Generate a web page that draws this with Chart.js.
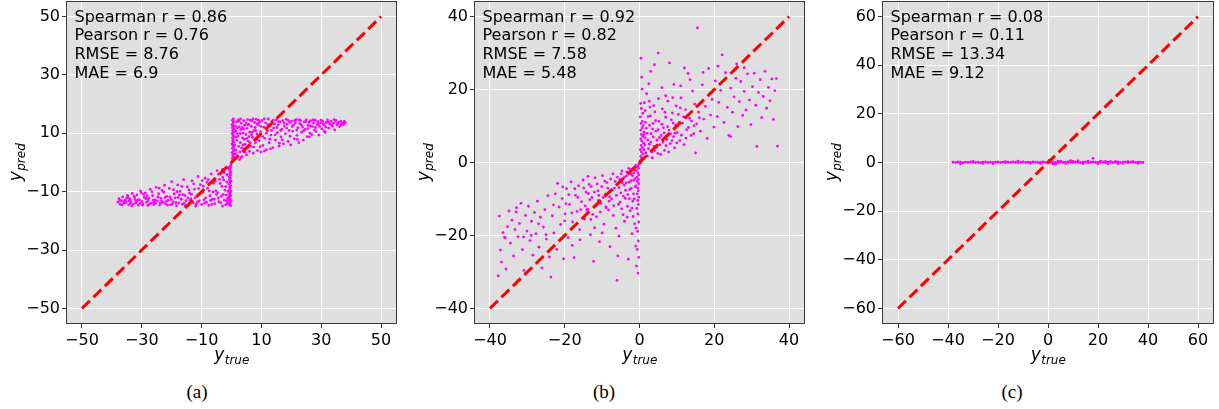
<!DOCTYPE html>
<html>
<head>
  <meta charset="utf-8">
  <title>y_true vs y_pred</title>
  <script src="https://cdn.jsdelivr.net/npm/chart.js@4.4.0/dist/chart.umd.min.js"></script>
  <style>
    body { margin: 0; background: #fff; width: 1219px; height: 409px; position: relative; overflow: hidden; }
    canvas { position: absolute; top: 0; }
    .cap { position: absolute; top: 381px; width: 60px; text-align: center; line-height: 22px;
           font-family: 'Liberation Serif', 'DejaVu Serif', serif; font-size: 19px; color: #000; }
  </style>
</head>
<body>
  <canvas id="chartA" width="410" height="372" style="left:0px"></canvas>
  <canvas id="chartB" width="400" height="372" style="left:410px"></canvas>
  <canvas id="chartC" width="404" height="372" style="left:815px"></canvas>
  <div class="cap" style="left:167px">(a)</div>
  <div class="cap" style="left:574px">(b)</div>
  <div class="cap" style="left:982px">(c)</div>

  <script>
    // ---- data: [y_true, y_pred] ----
    const ticksA = [-50, -30, -10, 10, 30, 50];
    const ticksB = [-40, -20, 0, 20, 40];
    const ticksC = [-60, -40, -20, 0, 20, 40, 60];
    const diagA = [-50, 50];
    const diagB = [-40, 40];
    const diagC = [-60, 60];
    const statsA = ['Spearman r = 0.86', 'Pearson r = 0.76', 'RMSE = 8.76', 'MAE = 6.9'];
    const statsB = ['Spearman r = 0.92', 'Pearson r = 0.82', 'RMSE = 7.58', 'MAE = 5.48'];
    const statsC = ['Spearman r = 0.08', 'Pearson r = 0.11', 'RMSE = 13.34', 'MAE = 9.12'];

    // panel (a)
    const aNegCol = [[-0.3,-14.8],[-0.7,-14.3],[-0.4,-13.8],[-0.8,-13.3],[-0.2,-12.9],[-0.6,-12.4],[-0.9,-11.9],[-0.3,-11.4],[-0.7,-10.9],[-0.5,-10.4],[-0.2,-9.9],[-0.8,-9.4],[-0.4,-8.9],[-0.6,-8.4],[-0.3,-7.9],[-0.9,-7.4],[-0.5,-6.9],[-0.2,-6.4],[-0.7,-5.9],[-0.4,-5.4],[-0.8,-4.9],[-0.3,-4.4],[-0.6,-3.9],[-0.2,-3.4],[-0.5,-2.9],[-0.7,-2.4],[-0.3,-1.9],[-0.4,-1.4],[-0.2,-0.9],[-0.1,-0.4]];
    const aPosCol = [[0.2,0.4],[0.5,0.9],[0.3,1.4],[0.7,1.9],[0.4,2.4],[0.8,2.9],[0.2,3.4],[0.6,3.9],[0.9,4.4],[0.3,4.9],[0.7,5.4],[0.5,5.9],[0.2,6.4],[0.8,6.9],[0.4,7.4],[0.6,7.9],[0.3,8.4],[0.9,8.9],[0.5,9.4],[0.2,9.9],[0.7,10.4],[0.4,10.9],[0.8,11.4],[0.3,11.9],[0.6,12.4],[0.2,12.9],[0.5,13.4],[0.7,13.9],[0.3,14.4],[0.6,14.9]];
    const aNeg = [[-38.0,-13.6],[-37.6,-12.4],[-37.2,-14.3],[-36.8,-13.1],[-36.4,-11.8],[-36.0,-14.0],[-35.6,-12.9],[-35.2,-13.7],[-34.8,-11.3],[-34.4,-14.5],[-34.0,-12.5],[-33.6,-13.4],[-33.2,-10.6],[-32.8,-14.2],[-32.4,-12.0],[-32.0,-13.8],[-31.6,-11.1],[-31.2,-14.6],[-30.8,-12.7],[-30.4,-9.7],[-30.0,-13.3],[-29.6,-14.1],[-29.2,-11.9],[-28.8,-10.4],[-28.4,-13.6],[-28.0,-14.7],[-27.6,-12.2],[-27.2,-9.2],[-26.8,-13.9],[-26.4,-11.4],[-26.0,-14.4],[-25.6,-12.8],[-25.2,-8.5],[-24.8,-13.2],[-24.4,-10.7],[-24.0,-14.6],[-23.6,-12.3],[-23.2,-9.6],[-22.8,-13.7],[-22.4,-7.8],[-22.0,-14.2],[-21.6,-11.6],[-21.2,-12.9],[-20.8,-8.9],[-20.4,-14.5],[-20.0,-6.6],[-19.6,-13.4],[-19.2,-10.8],[-18.8,-12.1],[-18.4,-14.8],[-18.0,-7.7],[-17.6,-13.9],[-17.2,-9.9],[-16.8,-12.6],[-16.4,-14.3],[-16.0,-5.9],[-15.6,-11.3],[-15.2,-13.1],[-14.8,-8.4],[-14.4,-14.6],[-14.0,-10.5],[-13.6,-12.4],[-13.2,-6.3],[-12.8,-13.8],[-12.4,-9.1],[-12.0,-14.9],[-11.6,-11.7],[-11.2,-4.8],[-10.8,-13.2],[-10.4,-7.6],[-10.0,-14.4],[-9.6,-10.2],[-9.2,-12.8],[-8.8,-5.4],[-8.4,-13.6],[-8.0,-8.8],[-7.6,-14.7],[-7.2,-11.4],[-6.8,-3.9],[-6.4,-12.6],[-6.0,-7.1],[-5.6,-14.1],[-5.2,-9.7],[-4.8,-2.8],[-4.4,-12.1],[-4.0,-5.8],[-3.6,-13.8],[-3.2,-8.2],[-2.8,-10.9],[-2.4,-3.5],[-2.0,-14.5],[-1.6,-6.7],[-1.3,-12.4],[-1.1,-1.8],
      [-9.0,-14.0],[-7.0,-13.0],[-5.0,-11.0],[-3.0,-14.9],[-2.2,-9.5],[-1.5,-4.2],[-4.2,-13.4],[-6.2,-10.1],[-8.2,-6.8],[-11.8,-14.2],[-13.8,-13.0],[-15.8,-14.0],[-17.8,-12.0],[-19.8,-14.2],[-21.8,-13.3],[-23.8,-13.9],[-25.8,-13.6],[-27.8,-13.0],[-29.8,-14.6],[-31.8,-13.5],[-33.8,-14.0],[-35.8,-13.4],[-2.6,-6.0],[-3.4,-11.6],[-1.9,-8.3],[-1.4,-14.0],
      [-37.4,-13.0],[-36.6,-14.6],[-35.0,-12.2],[-34.2,-13.1],[-33.4,-14.8],[-32.6,-11.5],[-31.4,-12.9],[-30.6,-14.0],[-29.4,-10.9],[-28.6,-12.4],[-27.4,-14.2],[-26.6,-10.0],[-25.4,-14.0],[-24.6,-11.9],[-23.4,-13.2],[-22.6,-10.2],[-21.4,-14.6],[-20.6,-11.8],[-19.4,-9.3],[-18.6,-13.7],[-17.4,-11.1],[-16.6,-8.2],[-15.4,-14.8],[-14.6,-12.1],[-13.4,-10.9],[-12.6,-7.3],[-11.4,-13.5],[-10.6,-10.8],[-9.4,-8.1],[-8.6,-12.1],[-7.4,-9.8],[-6.6,-14.4],[-5.4,-6.5],[-4.6,-10.3],[-3.8,-7.2],[-3.0,-2.4],[-2.4,-12.9],[-1.8,-11.2],[-1.2,-9.9],[-1.7,-13.2],[-2.9,-5.1],[-4.3,-4.0],[-5.8,-12.6],[-7.8,-5.9],[-9.8,-6.2],[-11.0,-8.9],[-12.2,-12.1],[-14.2,-9.4],[-16.2,-11.0],[-18.2,-10.0],[-20.2,-12.6],[-22.2,-12.0],[-24.2,-8.8],[-26.2,-12.9],[-28.2,-11.4],[-30.2,-10.3],[-32.2,-12.8],[-34.6,-12.0]];
    const aPos = [[1.2,1.5],[1.5,4.2],[1.8,7.6],[1.4,10.8],[1.7,13.9],[2.1,2.3],[2.4,5.5],[2.2,9.1],[2.6,12.2],[2.3,14.6],[2.8,3.6],[2.9,6.8],[3.1,11.3],[3.3,13.4],[3.0,14.9],[3.5,2.1],[3.7,8.4],[3.9,10.1],[4.2,4.7],[4.4,12.8],[4.1,14.3],[4.6,6.2],[4.8,9.6],[5.0,2.6],[5.2,11.7],[5.4,14.7],[5.6,7.3],[5.8,13.1],[6.0,3.8],[6.1,10.4],[6.4,5.5],[6.6,12.4],[6.8,14.2],[7.0,8.6],[7.3,3.2],[7.5,11.0],[7.7,13.7],[8.0,6.7],[8.2,14.8],[8.5,9.8],[8.7,4.1],[8.9,12.9],[9.2,7.5],[9.4,13.8],[9.7,10.6],[9.9,3.6],
      [10.2,14.4],[10.5,5.9],[10.8,12.1],[11.1,8.3],[11.4,13.5],[11.7,4.4],[12.0,10.9],[12.3,14.9],[12.6,6.8],[12.9,12.6],[13.2,9.4],[13.5,14.1],[13.8,5.1],[14.1,11.8],[14.4,13.2],[14.7,7.7],[15.0,14.6],[15.3,10.2],[15.6,12.9],[15.9,5.6],[16.2,13.9],[16.5,8.8],[16.8,11.4],[17.1,14.3],[17.4,6.4],[17.7,12.5],[18.0,9.9],[18.3,14.8],[18.6,13.1],[18.9,7.2],[19.2,11.0],[19.5,13.7],[19.8,6.0],
      [20.1,14.2],[20.4,10.7],[20.7,12.8],[21.0,8.1],[21.3,13.5],[21.6,14.7],[21.9,9.3],[22.2,11.9],[22.5,6.8],[22.8,13.3],[23.1,14.4],[23.4,10.4],[23.7,12.2],[24.0,7.7],[24.3,13.9],[24.6,11.3],[25.0,14.6],[25.3,8.9],[25.6,12.7],[25.9,13.8],[26.2,10.1],[26.5,14.3],[26.8,9.6],[27.1,12.3],[27.4,13.5],[27.7,11.1],[28.0,14.5],[28.3,10.6],[28.6,13.0],[28.9,14.0],[29.2,9.4],[29.5,12.4],[29.8,13.6],
      [30.2,11.5],[30.5,14.2],[30.9,12.8],[31.3,10.3],[31.7,13.7],[32.1,14.6],[32.5,11.8],[32.9,13.1],[33.3,14.1],[33.7,12.4],[34.1,13.5],[34.5,11.2],[34.9,14.4],[35.3,12.9],[35.7,13.8],[36.1,12.3],[36.5,14.1],[36.9,13.3],[37.3,13.6],[37.7,14.2],[38.0,13.7],
      [1.1,6.0],[1.3,12.5],[1.9,9.9],[2.7,1.0],[3.4,5.0],[3.6,12.0],[4.3,7.9],[4.9,13.6],[5.3,5.0],[5.9,8.9],[6.3,14.5],[6.9,10.3],[7.9,12.0],[8.4,7.9],[9.0,14.5],[9.6,5.4],
      [1.4,3.0],[1.6,8.7],[2.0,11.9],[2.5,14.1],[2.9,9.9],[3.2,1.6],[3.8,6.0],[4.0,11.4],[4.5,3.5],[5.1,8.3],[5.5,12.9],[6.2,6.8],[6.7,9.4],[7.2,14.9],[7.4,5.3],[8.1,10.9],[8.6,13.3],[9.3,9.0],[9.8,12.4],[10.4,8.9],[11.0,14.9],[11.6,10.0],[12.2,13.0],[12.8,8.0],[13.4,11.0],[14.0,14.5],[14.6,9.5],[15.2,12.0],[15.8,14.0],[16.4,10.9],[17.0,7.8],[17.6,13.6],[18.4,11.8],[19.0,14.4],[19.6,9.0],[20.3,12.3],[21.1,14.3],[21.8,11.1],[22.6,14.6],[23.3,12.9],[24.1,10.9],[24.8,14.0],[25.5,11.6],[26.4,12.6],[27.3,14.6],[28.1,12.0],[29.0,13.1],[29.9,14.5],[30.7,13.3],[31.5,12.1],[32.3,13.8],[33.5,12.9],[34.3,14.7],[35.5,13.4],[36.7,12.8],[37.5,13.1],[16.0,6.6],[13.0,4.7],[11.0,3.9],[22.0,7.9],[26.0,8.8],[31.0,10.8]];

    // panel (b)
    const bPosCol = [[0.2,0.5],[0.6,1.1],[0.3,1.7],[0.9,2.3],[0.5,2.9],[0.2,3.5],[0.8,4.1],[0.4,4.7],[1.1,5.3],[0.6,5.9],[0.3,6.5],[0.9,7.1],[0.5,7.7],[1.2,8.3],[0.3,8.9],[0.7,9.5],[1.0,10.1],[0.4,10.7],[0.8,11.3],[0.2,12.5],[0.5,14.8],[0.3,16.2],[0.6,23.4],[0.4,28.6],[0.7,20.1],[0.2,-0.2]];
    const bNegCol = [[-0.2,-0.4],[-0.5,-1.0],[-0.3,-1.6],[-0.8,-2.2],[-0.4,-2.8],[-0.2,-3.4],[-0.7,-4.0],[-0.3,-4.6],[-0.6,-5.2],[-0.2,-5.8],[-0.9,-6.4],[-0.4,-7.0],[-0.3,-7.8],[-0.6,-8.6],[-0.2,-9.5],[-0.5,-10.4],[-0.3,-11.5],[-0.7,-12.6],[-0.4,-14.1],[-0.2,-16.3],[-0.5,-18.9],[-0.3,-21.5],[-0.6,-23.8],[-0.2,-26.0],[-0.4,-30.3],[-0.8,-28.4]];
    const bPos = [[1.2,3.5],[1.5,6.8],[1.8,9.4],[2.1,1.8],[2.3,12.6],[2.6,5.0],[2.8,15.2],[3.1,7.9],[3.3,2.9],[3.6,10.7],[3.9,4.4],[4.1,13.9],[4.4,8.6],[4.7,6.1],[4.9,2.5],[3.0,25.0],[4.0,26.8],[1.9,18.9],[2.5,21.6],[1.3,16.4],
      [5.2,11.3],[5.5,4.9],[5.8,7.4],[6.1,14.7],[6.4,9.5],[6.7,3.3],[7.0,12.4],[7.3,6.3],[7.6,16.8],[7.9,8.9],[8.2,5.2],[8.5,11.7],[8.8,13.6],[9.1,7.1],[9.4,4.0],[9.7,10.3],[6.0,20.5],[8.0,27.3],[9.2,21.4],[5.0,30.0],[7.0,18.3],[9.8,15.5],
      [10.1,8.2],[10.4,13.2],[10.8,6.0],[11.1,17.7],[11.5,10.8],[11.9,4.9],[12.3,14.5],[12.6,9.0],[13.0,24.4],[13.4,12.1],[13.8,7.4],[14.2,19.6],[14.6,10.1],[15.0,2.6],[15.5,36.9],[15.8,13.8],[12.0,25.9],[13.5,22.7],[11.0,21.0],[14.8,16.0],
      [16.3,8.6],[16.8,21.3],[17.2,11.9],[17.6,15.4],[18.1,6.6],[18.5,25.8],[19.0,13.0],[19.4,17.3],[19.9,9.7],[20.3,22.4],[20.8,12.6],[21.2,16.5],[21.7,19.8],[22.1,29.5],[22.6,11.0],[23.0,24.6],[23.5,15.1],[23.9,7.4],[17.0,24.7],[21.0,26.4],
      [24.4,20.4],[24.9,13.8],[25.3,18.0],[25.8,23.1],[26.3,9.9],[26.7,16.7],[27.1,22.2],[27.6,12.9],[28.0,19.5],[28.5,14.4],[28.9,24.3],[29.4,17.1],[29.8,10.4],[30.2,20.8],[30.7,24.5],[31.1,15.7],[31.4,4.4],[31.8,19.2],[32.3,22.7],[32.7,12.3],[33.1,18.1],[33.6,25.0],[34.0,14.9],[34.5,20.6],[34.9,16.9],[35.4,22.9],[35.8,11.8],[36.2,19.7],[36.6,23.0],[36.9,4.5],[24.4,7.1],[26.0,27.0],[28.0,26.0],
      [1.0,1.2],[1.4,4.8],[1.7,2.6],[2.0,8.0],[2.4,3.8],[2.7,10.2],[3.0,5.6],[3.4,1.3],[3.7,7.0],[4.0,3.2],[4.3,11.5],[4.6,4.2],[5.0,9.0],[5.3,6.8],[5.7,2.2],[6.0,10.5],[6.3,5.6],[6.6,8.1],[7.1,4.6],[7.5,9.8],[7.8,2.9],[8.3,7.9],[8.7,6.0],[9.0,10.8],[9.5,8.0],[10.0,5.4],[10.6,11.0],[11.2,7.5],[11.8,12.5],[12.4,6.7],[13.1,9.6],[13.9,11.4],[14.5,7.9],[15.3,10.6],[16.0,12.3],[1.1,7.6],[1.6,11.0],[2.2,6.2],[2.9,12.8],[3.5,9.2],[0.9,13.5],[1.5,14.2],[2.6,16.8],[3.8,15.6],[5.1,17.5],[6.8,13.8],[8.9,17.8],[10.9,15.0]];
    const bNeg = [[-37.8,-31.1],[-37.5,-14.7],[-37.2,-24.0],[-36.9,-27.3],[-36.5,-19.2],[-36.1,-20.5],[-35.7,-29.2],[-35.3,-17.6],[-34.9,-13.3],[-34.5,-22.1],[-34.1,-15.8],[-33.7,-25.6],[-33.3,-18.4],[-32.9,-12.4],[-32.5,-20.3],[-32.1,-16.7],[-31.7,-11.2],[-31.3,-23.9],[-30.9,-29.6],[-30.5,-14.5],[-30.1,-18.8],[-35.9,-20.7],[-33.0,-13.6],[-31.0,-20.4],
      [-29.7,-12.0],[-29.3,-21.4],[-28.9,-16.1],[-28.5,-25.4],[-28.1,-13.7],[-27.7,-19.5],[-27.3,-10.6],[-26.9,-23.2],[-26.5,-15.0],[-26.1,-28.9],[-25.7,-17.7],[-25.3,-12.9],[-24.9,-21.0],[-24.5,-9.1],[-24.1,-25.9],[-23.7,-31.4],[-23.3,-14.6],[-22.9,-19.3],[-22.5,-8.6],[-22.1,-23.8],[-21.9,-5.7],[-29.0,-20.0],[-27.0,-16.8],[-25.0,-19.8],[-23.0,-11.6],
      [-21.5,-12.2],[-21.1,-17.0],[-20.7,-9.9],[-20.3,-26.4],[-19.9,-14.1],[-19.5,-7.2],[-19.1,-20.6],[-18.7,-11.5],[-18.3,-5.3],[-17.9,-16.3],[-17.5,-26.1],[-17.1,-9.0],[-16.7,-13.4],[-16.3,-6.4],[-15.9,-21.2],[-15.5,-10.7],[-15.1,-4.8],[-14.7,-15.5],[-14.3,-8.1],[-20.0,-16.0],[-18.0,-22.7],[-16.0,-18.4],[-14.5,-11.9],
      [-13.9,-12.8],[-13.5,-6.0],[-13.1,-19.8],[-12.7,-9.6],[-12.3,-27.1],[-11.9,-4.2],[-11.5,-14.9],[-11.1,-7.8],[-10.7,-21.7],[-10.3,-11.2],[-9.9,-3.6],[-9.5,-16.9],[-9.1,-8.7],[-8.7,-5.5],[-8.3,-13.0],[-7.9,-23.1],[-7.5,-10.0],[-7.1,-3.1],[-6.7,-7.0],[-6.3,-18.0],[-6.0,-32.3],[-5.8,-25.6],[-13.0,-15.6],[-12.0,-17.9],[-10.0,-19.3],[-9.0,-12.2],[-8.0,-9.4],[-7.0,-14.5],[-11.0,-10.4],[-13.8,-3.8],
      [-5.6,-11.5],[-5.3,-4.6],[-5.0,-8.3],[-4.7,-2.3],[-4.4,-14.3],[-4.1,-6.2],[-3.8,-9.8],[-3.5,-3.7],[-3.2,-12.0],[-2.9,-1.6],[-2.6,-7.4],[-2.3,-5.0],[-2.0,-19.5],[-1.8,-10.6],[-1.5,-2.9],[-1.3,-16.8],[-1.1,-6.7],[-1.0,-22.9],[-5.5,-20.2],[-3.0,-26.5],[-4.0,-16.1],[-2.5,-13.2],[-1.6,-8.6],[-3.6,-5.6],[-2.2,-3.2],[-4.8,-12.7],[-1.2,-4.4],[-0.9,-1.2],
      [-1.0,-0.8],[-1.3,-2.0],[-1.6,-4.9],[-1.9,-3.6],[-2.2,-7.1],[-2.5,-1.9],[-2.8,-5.4],[-3.1,-8.8],[-3.4,-2.6],[-3.7,-7.6],[-4.0,-4.0],[-4.3,-9.2],[-4.6,-5.6],[-4.9,-3.1],[-5.2,-10.9],[-5.5,-6.9],[-5.9,-4.0],[-6.2,-9.0],[-6.5,-5.2],[-6.9,-11.8],[-7.3,-7.6],[-7.7,-4.5],[-8.1,-10.6],[-8.5,-7.0],[-8.9,-12.4],[-9.3,-5.1],[-9.7,-9.6],[-10.1,-6.6],[-10.5,-13.6],[-10.9,-9.0],[-11.3,-5.9],[-11.7,-11.8],[-12.1,-8.1],[-12.5,-14.2],[-12.9,-6.6],[-13.3,-10.2],[-13.7,-8.5],[-14.1,-13.0],[-14.9,-7.0],[-15.7,-12.9],[-16.5,-9.6],[-17.3,-7.2],[-18.1,-13.8],[-18.9,-8.8],[-19.7,-11.3],[-20.5,-6.7],[-1.4,-10.0],[-2.0,-12.5],[-2.7,-9.9],[-3.3,-15.0],[-1.7,-14.8],[-0.9,-18.0]];

    // panel (c)
    const cBand = [[-38,0.1],[-37,0.0],[-36,0.2],[-35,0.1],[-34,-0.1],[-33,0.1],[-32,0.0],[-31,0.2],[-30,0.1],[-29,0.0],[-28,0.1],[-27,-0.1],[-26,0.1],[-25,0.2],[-24,0.0],[-23,0.1],[-22,0.0],[-21,0.1],[-20,0.2],[-19,0.0],[-18,0.1],[-17,-0.1],[-16,0.1],[-15,0.0],[-14,0.2],[-13,0.1],[-12,0.0],[-11,0.1],[-10,0.2],[-9,0.0],[-8,0.1],[-7,0.0],[-6,0.2],[-5,0.1],[-4,0.0],[-3,0.1],[-2,0.2],[-1,0.0],[0,0.3],[1,0.1],[2,0.2],[3,0.0],[4,0.1],[5,0.2],[6,0.0],[7,0.1],[8,0.2],[9,0.1],[10,0.0],[11,0.2],[12,0.1],[13,0.0],[14,0.1],[15,0.2],[16,0.0],[17,0.1],[18,0.2],[19,0.1],[20,0.0],[21,0.1],[22,0.2],[23,0.0],[24,0.1],[25,0.2],[26,0.0],[27,0.1],[28,0.2],[29,0.0],[30,0.1],[31,0.2],[32,0.0],[33,0.1],[34,0.2],[35,0.0],[36,0.1],[37,0.1],[38,0.0]];
    const cSpread = [[-35,-0.6],[-30,0.5],[-26,-0.4],[-22,-0.5],[-17,0.4],[-12,0.6],[-7,-0.3],[-3,-0.4],[0.5,1.0],[1,0.9],[2,-0.6],[3,-0.7],[4,0.6],[5,0.6],[7,-0.4],[9,0.8],[10,0.5],[12,0.7],[14,-0.5],[16,0.6],[18,1.7],[20,-0.6],[21,0.6],[23,0.5],[24,-0.6],[25,0.4],[27,0.5],[28,-0.5],[30,-0.4],[32,0.4],[34,0.3],[36,-0.3]];

    const pointsA = aNeg.concat(aNegCol, aPosCol, aPos);
    const pointsB = bNeg.concat(bNegCol, bPosCol, bPos);
    const pointsC = cBand.concat(cSpread);

    // ---- drawing ----
    const tickFmt = v => v < 0 ? '\u2212' + Math.abs(v) : String(v);

    function axis(ticks, lim, horizontal, size) {
      return {
        type: 'linear', min: -lim, max: lim,
        afterBuildTicks: s => { s.ticks = ticks.map(v => ({ value: v })); },
        afterFit: s => {
          if (horizontal) s.height = size; else s.width = size;
          s.paddingTop = 0; s.paddingBottom = 0; s.paddingLeft = 0; s.paddingRight = 0;
        },
        grid: { color: '#ffffff', lineWidth: 1, tickColor: '#333333', tickLength: 5 },
        border: { display: false },
        ticks: { font: { family: 'DejaVu Sans', size: 16 }, color: '#000', padding: horizontal ? 3 : 2,
                 callback: tickFmt, maxRotation: 0, autoSkip: false }
      };
    }

    function subLabel(c, cx, baseY, sub) {
      c.font = 'italic 17px "DejaVu Sans"';
      const w1 = c.measureText('y').width;
      c.font = 'italic 12px "DejaVu Sans"';
      const w2 = c.measureText(sub).width;
      const x0 = cx - (w1 + w2) / 2;
      c.textAlign = 'left';
      c.textBaseline = 'alphabetic';
      c.font = 'italic 17px "DejaVu Sans"';
      c.fillText('y', x0, baseY);
      c.font = 'italic 12px "DejaVu Sans"';
      c.fillText(sub, x0 + w1 + 0.5, baseY + 4);
    }

    function framePlugin(stats) {
      return {
        id: 'frame',
        beforeDraw(chart) {
          const a = chart.chartArea, c = chart.ctx;
          c.save();
          c.fillStyle = '#dfdfdf';
          c.fillRect(a.left, a.top, a.right - a.left, a.bottom - a.top);
          c.restore();
        },
        afterDraw(chart) {
          const a = chart.chartArea, c = chart.ctx;
          c.save();
          c.strokeStyle = '#3a3a3a';
          c.lineWidth = 1;
          c.strokeRect(a.left - 0.5, a.top - 0.5, a.right - a.left + 1, a.bottom - a.top + 1);
          // stats text
          c.fillStyle = '#000';
          c.font = '16px "DejaVu Sans"';
          c.textAlign = 'left';
          c.textBaseline = 'alphabetic';
          stats.forEach((s, i) => c.fillText(s, a.left + 7.5, a.top + 19.5 + i * 18.8));
          // axis titles
          subLabel(c, (a.left + a.right) / 2, 359.5, 'true');
          c.translate(a.left - 46, (a.top + a.bottom) / 2);
          c.rotate(-Math.PI / 2);
          subLabel(c, 0, 0, 'pred');
          c.restore();
        }
      };
    }

    function makePanel(id, points, diag, ticks, lim, stats, yAxisW, padRight) {
      const ctx = document.getElementById(id).getContext('2d');
      return new Chart(ctx, {
        type: 'scatter',
        data: {
          datasets: [
            { data: diag.map(v => ({ x: v, y: v })), showLine: true, borderColor: '#ff0000', borderWidth: 3,
              borderDash: [11, 5], borderCapStyle: 'butt', pointRadius: 0, order: 0 },
            { data: points.map(p => ({ x: p[0], y: p[1] })), backgroundColor: '#ff00ff', borderWidth: 0,
              pointRadius: 1.4, pointHoverRadius: 1.4, order: 1 }
          ]
        },
        options: {
          responsive: false,
          animation: false,
          devicePixelRatio: 1,
          events: [],
          layout: { padding: { left: 0, right: padRight, top: 2, bottom: 0 } },
          plugins: { legend: { display: false }, tooltip: { enabled: false } },
          scales: {
            x: axis(ticks, lim, true, 49),
            y: axis(ticks, lim, false, yAxisW)
          }
        },
        plugins: [framePlugin(stats)]
      });
    }

    makePanel('chartA', pointsA, diagA, ticksA, 55, statsA, 67, 14);
    makePanel('chartB', pointsB, diagB, ticksB, 44, statsB, 65, 6);
    makePanel('chartC', pointsC, diagC, ticksC, 66, statsC, 68, 6);
  </script>
</body>
</html>
